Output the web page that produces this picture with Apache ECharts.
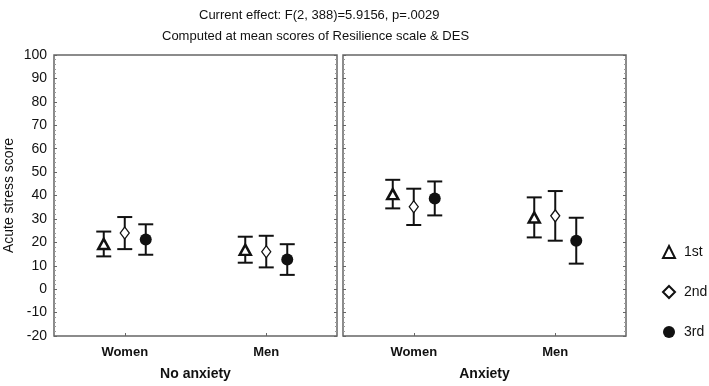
<!DOCTYPE html>
<html>
<head>
<meta charset="utf-8">
<script src="https://cdn.jsdelivr.net/npm/echarts@6/dist/echarts.min.js"></script>
<style>
  html, body { margin: 0; padding: 0; background: #fff; }
  #chart { width: 709px; height: 386px; }
</style>
</head>
<body>
<div id="chart"></div>
<script>
const categories = ['Women', 'Men'];
const panels = ['No anxiety', 'Anxiety'];
const sessions = ['1st', '2nd', '3rd'];

// order: [No anxiety Women, No anxiety Men, Anxiety Women, Anxiety Men]
const means1st = [19.3, 16.8, 40.6, 30.6];
const lower1st = [14.0, 11.3, 34.5, 22.1];
const upper1st = [24.6, 22.4, 46.7, 39.2];

const means2nd = [24.0, 16.0, 35.2, 31.3];
const lower2nd = [17.1, 9.3, 27.4, 20.7];
const upper2nd = [30.8, 22.8, 42.9, 41.9];

const means3rd = [21.2, 12.7, 38.7, 20.7];
const lower3rd = [14.7, 6.1, 31.5, 10.9];
const upper3rd = [27.7, 19.2, 46.0, 30.5];

const yTicks = { min: -20, max: 100, interval: 10 };

const font = 'Liberation Sans, Arial, sans-serif';
const ink = '#111';
const frame = '#666';

const sessionMeans = [means1st, means2nd, means3rd];
const sessionLower = [lower1st, lower2nd, lower3rd];
const sessionUpper = [upper1st, upper2nd, upper3rd];
const sessionOffset = [-21, 0, 21];
const sessionSymbol = [
  { symbol: 'triangle', symbolSize: [11, 10], itemStyle: { color: '#fff', borderColor: ink, borderWidth: 2.5, opacity: 1 } },
  { symbol: 'diamond', symbolSize: [9, 12], itemStyle: { color: '#fff', borderColor: ink, borderWidth: 1.3, opacity: 1 } },
  { symbol: 'circle', symbolSize: 12, itemStyle: { color: ink, borderColor: ink, borderWidth: 0, opacity: 1 } }
];

const errorBar = (dx) => (params, api) => {
  const x = api.value(0);
  const lo = api.coord([x, api.value(1)]);
  const hi = api.coord([x, api.value(2)]);
  const cx = lo[0] + dx;
  const cap = 7.5;
  const style = { stroke: ink, lineWidth: 2 };
  return {
    type: 'group',
    children: [
      { type: 'line', shape: { x1: cx, y1: hi[1], x2: cx, y2: lo[1] }, style },
      { type: 'line', shape: { x1: cx - cap, y1: hi[1], x2: cx + cap, y2: hi[1] }, style },
      { type: 'line', shape: { x1: cx - cap, y1: lo[1], x2: cx + cap, y2: lo[1] }, style }
    ]
  };
};

const grids = [
  { left: 54, top: 55, width: 283, height: 285, show: true, borderColor: frame, borderWidth: 1.5 },
  { left: 343, top: 55, width: 283, height: 285, show: true, borderColor: frame, borderWidth: 1.5 }
];

const xAxes = panels.map((name, p) => ({
  type: 'category',
  gridIndex: p,
  data: categories,
  name: name,
  nameLocation: 'middle',
  nameGap: 31,
  nameTextStyle: { fontFamily: font, fontSize: 14, fontWeight: 'bold', color: ink },
  axisLine: { show: false, onZero: false },
  axisTick: { show: true, inside: true, alignWithLabel: true, length: 3, lineStyle: { color: frame } },
  axisLabel: { margin: 10, fontFamily: font, fontSize: 13, fontWeight: 'bold', color: ink },
  splitLine: { show: false }
}));

const yAxes = [];
panels.forEach((name, p) => {
  yAxes.push({
    type: 'value',
    gridIndex: p,
    position: 'left',
    min: yTicks.min,
    max: yTicks.max,
    interval: yTicks.interval,
    name: p === 0 ? 'Acute stress score' : '',
    nameLocation: 'middle',
    nameGap: 38,
    nameTextStyle: { fontFamily: font, fontSize: 14, color: ink },
    axisLine: { show: false },
    axisTick: { show: true, inside: true, length: 3, lineStyle: { color: frame } },
    minorTick: { show: true, splitNumber: 5, length: 2, lineStyle: { color: '#999' } },
    axisLabel: { show: p === 0, margin: 7, fontFamily: font, fontSize: 14, color: ink },
    splitLine: { show: false }
  });
});
panels.forEach((name, p) => {
  yAxes.push({
    type: 'value',
    gridIndex: p,
    position: 'right',
    min: yTicks.min,
    max: yTicks.max,
    interval: yTicks.interval,
    axisLine: { show: false },
    axisTick: { show: true, inside: true, length: 3, lineStyle: { color: frame } },
    minorTick: { show: true, splitNumber: 5, length: 2, lineStyle: { color: '#999' } },
    axisLabel: { show: false },
    splitLine: { show: false }
  });
});

const series = [];
panels.forEach((name, p) => {
  sessions.forEach((s, k) => {
    const idx = [p * 2, p * 2 + 1];
    series.push({
      type: 'custom',
      xAxisIndex: p,
      yAxisIndex: p,
      z: 2,
      silent: true,
      renderItem: errorBar(sessionOffset[k]),
      data: idx.map((i, c) => [c, sessionLower[k][i], sessionUpper[k][i]])
    });
  });
  sessions.forEach((s, k) => {
    const idx = [p * 2, p * 2 + 1];
    series.push(Object.assign({
      type: 'scatter',
      name: s,
      xAxisIndex: p,
      yAxisIndex: p,
      z: 5,
      symbolOffset: [sessionOffset[k], 0],
      data: idx.map((i, c) => [c, sessionMeans[k][i]])
    }, sessionSymbol[k]));
  });
});

const chart = echarts.init(document.getElementById('chart'));
chart.setOption({
  animation: false,
  backgroundColor: '#fff',
  title: [
    { text: 'Current effect: F(2, 388)=5.9156, p=.0029', left: 194, top: 4,
      textStyle: { fontFamily: font, fontSize: 13, fontWeight: 'normal', color: ink } },
    { text: 'Computed at mean scores of Resilience scale & DES', left: 157, top: 25,
      textStyle: { fontFamily: font, fontSize: 13, fontWeight: 'normal', color: ink } }
  ],
  legend: {
    orient: 'vertical',
    left: 657,
    top: 240,
    itemGap: 26,
    itemWidth: 12,
    itemHeight: 12,
    data: sessions,
    textStyle: { fontFamily: font, fontSize: 14, color: ink, padding: [0, 0, 0, 4] }
  },
  grid: grids,
  xAxis: xAxes,
  yAxis: yAxes,
  series: series
});
</script>
</body>
</html>
